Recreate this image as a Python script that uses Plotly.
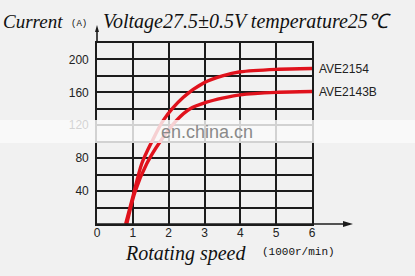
import plotly.graph_objects as go

# ---- data ----
x_ticks = [0, 1, 2, 3, 4, 5, 6]
y_ticks = [40, 80, 120, 160, 200]

ave2154_speed = [0.8, 1.0, 1.25, 1.53, 1.85, 2.41, 3.0, 3.5, 4.0, 5.0, 6.0]
ave2154_current = [0, 33, 73.5, 100, 126, 154, 172, 180, 185, 188, 189]

ave2143b_speed = [0.83, 1.06, 1.39, 1.76, 2.22, 2.6, 3.06, 3.5, 4.0, 5.0, 6.0]
ave2143b_current = [0, 39, 73.5, 100, 126, 140, 148, 153, 157, 160, 161]

series_names = ["AVE2154", "AVE2143B"]

RED = "#e0121c"
GRID = "#1c1c1c"
BG = "#f1f1f1"
SERIF = "Liberation Serif, Times New Roman, serif"
MONO = "Liberation Mono, DejaVu Sans Mono, monospace"
SANS = "Liberation Sans, Arial, sans-serif"

fig = go.Figure()
for xs, ys, name in [(ave2154_speed, ave2154_current, series_names[0]),
                     (ave2143b_speed, ave2143b_current, series_names[1])]:
    fig.add_trace(go.Scatter(x=xs, y=ys, mode="lines", name=name,
                             line=dict(color=RED, width=3.4, shape="spline", smoothing=0.8),
                             cliponaxis=False, showlegend=False))
    fig.add_annotation(x=xs[-1], y=ys[-1], xref="x", yref="y", text=name,
                       showarrow=False, xanchor="left", xshift=5,
                       font=dict(family=SANS, size=12, color="#222"))

W, H = 415, 276
L, R, T, B = 97, 103, 43, 52
pw, ph = W - L - R, H - T - B

def px2paper_x(px):
    return (px - L) / pw

def px2paper_y(py):
    return (H - B - py) / ph

fig.update_layout(
    width=W, height=H,
    margin=dict(l=L, r=R, t=T, b=B),
    paper_bgcolor=BG, plot_bgcolor=BG,
    xaxis=dict(range=[0, 6], tickmode="array", tickvals=x_ticks,
               showgrid=True, gridcolor=GRID, gridwidth=1.6,
               showline=True, linecolor=GRID, linewidth=1.6, mirror=True,
               zeroline=False, ticks="", ticklabelstandoff=-3,
               tickfont=dict(family=SANS, size=12, color="#222")),
    yaxis=dict(range=[0, 220], tickmode="array", tickvals=y_ticks,
               showgrid=True, gridcolor=GRID, gridwidth=1.6,
               minor=dict(tickmode="array", tickvals=[20, 60, 100, 140, 180],
                          showgrid=True, gridcolor=GRID, gridwidth=1.6),
               showline=True, linecolor=GRID, linewidth=1.6, mirror=True,
               zeroline=False, ticks="", ticklabelstandoff=4,
               tickfont=dict(family=SANS, size=12, color="#222")),
)

# axis arrows
fig.add_shape(type="line", xref="paper", yref="paper",
              x0=0, x1=px2paper_x(346), y0=0, y1=0,
              line=dict(color=GRID, width=1.6))
fig.add_shape(type="path", xref="paper", yref="paper",
              path=f"M {px2paper_x(353)} {px2paper_y(224)} L {px2paper_x(343)} {px2paper_y(221)} L {px2paper_x(343)} {px2paper_y(227)} Z",
              fillcolor=GRID, line=dict(width=0))
fig.add_shape(type="line", xref="paper", yref="paper",
              x0=0, x1=0, y0=1, y1=px2paper_y(30),
              line=dict(color=GRID, width=1.6))
fig.add_shape(type="path", xref="paper", yref="paper",
              path=f"M {px2paper_x(97)} {px2paper_y(25)} L {px2paper_x(95)} {px2paper_y(32)} L {px2paper_x(99)} {px2paper_y(32)} Z",
              fillcolor=GRID, line=dict(width=0))

# titles
fig.add_annotation(xref="paper", yref="paper", x=px2paper_x(1), y=px2paper_y(21),
                   text="<i>Current</i>", showarrow=False, xanchor="left", yanchor="middle",
                   font=dict(family=SERIF, size=19, color="#111"))
fig.add_annotation(xref="paper", yref="paper", x=px2paper_x(69), y=px2paper_y(24),
                   text="(A)", showarrow=False, xanchor="left", yanchor="middle",
                   font=dict(family=MONO, size=9, color="#111"))
fig.add_annotation(xref="paper", yref="paper", x=px2paper_x(101), y=px2paper_y(21),
                   text="<i>Voltage27.5±0.5V temperature25℃</i>", showarrow=False,
                   xanchor="left", yanchor="middle",
                   font=dict(family=SERIF, size=20, color="#111"))
fig.add_annotation(xref="paper", yref="paper", x=px2paper_x(123), y=px2paper_y(253),
                   text="<i>Rotating speed</i>", showarrow=False,
                   xanchor="left", yanchor="middle",
                   font=dict(family=SERIF, size=20, color="#111"))
fig.add_annotation(xref="paper", yref="paper", x=px2paper_x(260), y=px2paper_y(252),
                   text="(1000r/min)", showarrow=False,
                   xanchor="left", yanchor="middle",
                   font=dict(family=MONO, size=11, color="#111"))

# watermark band
fig.add_shape(type="rect", xref="paper", yref="paper",
              x0=px2paper_x(0), x1=px2paper_x(415), y0=px2paper_y(143), y1=px2paper_y(120),
              fillcolor="rgba(250,250,250,0.82)", line=dict(width=0), layer="above")
fig.add_annotation(xref="paper", yref="paper", x=px2paper_x(207), y=px2paper_y(132),
                   text="en.china.cn", showarrow=False, xanchor="center", yanchor="middle",
                   font=dict(family=SANS, size=18, color="#8a8a8a"))

fig.write_html("out.html")
